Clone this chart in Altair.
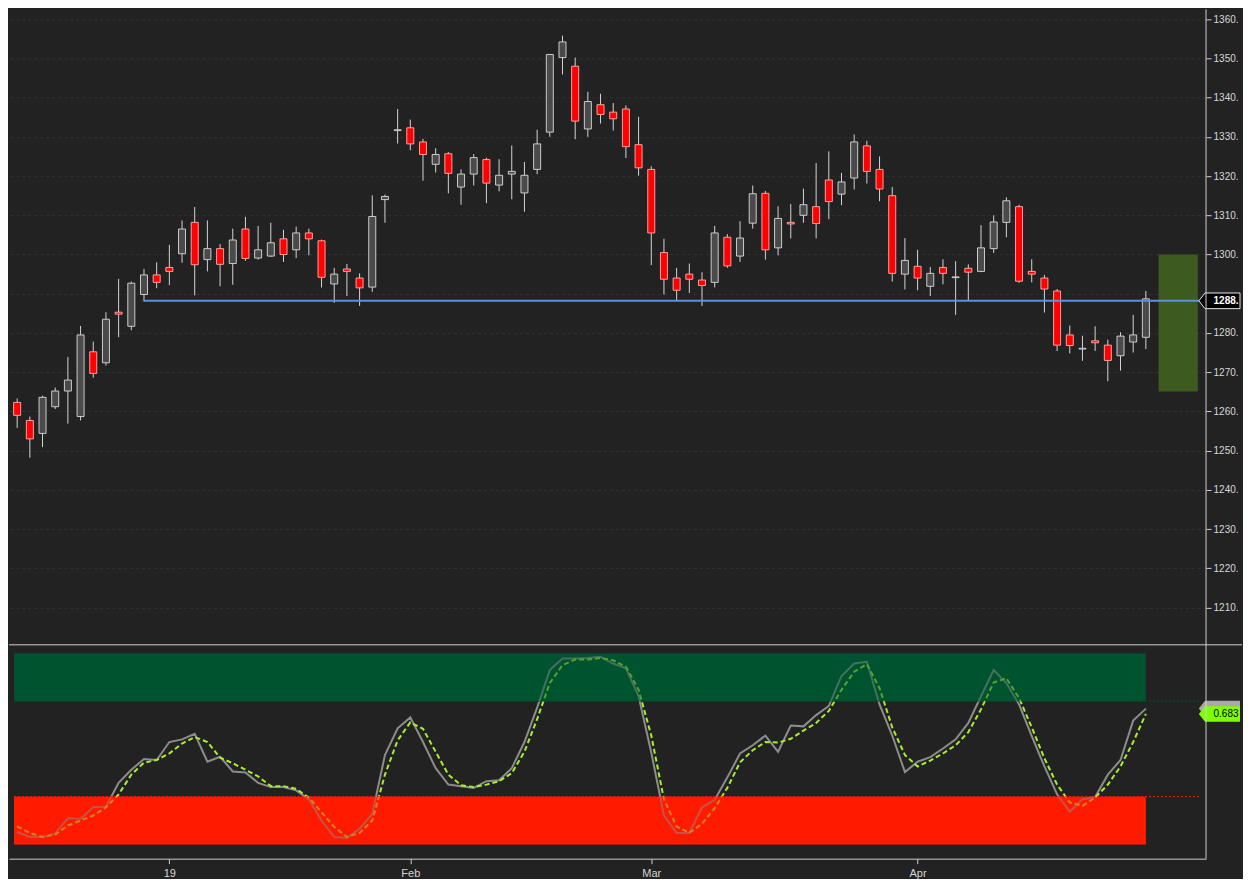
import altair as alt
import pandas as pd
import numpy as np

# ---------------- data ----------------
IDX = list(range(90))
OPEN = [1262.3, 1257.7, 1254.4, 1261.2, 1265.2, 1258.7, 1275.2, 1272.4, 1285.3, 1281.7,
        1289.8, 1294.8, 1296.7, 1300.2, 1308.2, 1298.7, 1301.5, 1297.7, 1306.5, 1299.1,
        1299.6, 1304.0, 1301.2, 1305.5, 1303.5, 1292.5, 1296.3, 1294.0, 1291.7, 1314.0,
        1331.6, 1332.3, 1328.7, 1323.0, 1325.7, 1317.2, 1320.5, 1324.2, 1317.7, 1320.5,
        1315.7, 1321.7, 1331.2, 1350.2, 1348.0, 1332.0, 1338.2, 1336.3, 1337.1, 1328.0,
        1321.7, 1300.5, 1294.0, 1295.0, 1293.5, 1292.9, 1304.4, 1299.6, 1308.0, 1315.6,
        1301.7, 1308.2, 1310.0, 1312.2, 1319.0, 1315.4, 1319.5, 1327.7, 1321.7, 1315.0,
        1295.0, 1297.0, 1291.9, 1296.7, 1294.1, 1296.5, 1295.7, 1301.5, 1308.2, 1312.2,
        1295.7, 1294.0, 1290.7, 1279.5, 1275.9, 1278.0, 1276.9, 1274.2, 1277.7, 1278.9]
HIGH = [1263.3, 1258.7, 1264.0, 1266.1, 1273.9, 1281.8, 1277.8, 1285.3, 1293.8, 1293.1,
        1296.3, 1298.0, 1302.5, 1308.7, 1312.1, 1308.7, 1302.7, 1306.6, 1309.6, 1307.3,
        1308.1, 1306.3, 1307.1, 1306.6, 1303.8, 1296.6, 1297.6, 1295.2, 1315.1, 1315.3,
        1337.1, 1334.4, 1329.5, 1327.1, 1326.1, 1321.7, 1325.6, 1324.7, 1324.3, 1327.8,
        1323.6, 1331.8, 1351.0, 1355.8, 1350.2, 1341.5, 1341.0, 1338.6, 1338.0, 1335.1,
        1322.5, 1304.0, 1296.6, 1297.7, 1295.5, 1307.3, 1305.2, 1308.5, 1317.6, 1316.2,
        1312.3, 1312.9, 1316.8, 1323.3, 1326.3, 1320.8, 1330.6, 1329.0, 1325.0, 1317.2,
        1304.2, 1301.2, 1296.8, 1298.8, 1298.3, 1297.5, 1307.5, 1310.0, 1314.6, 1312.7,
        1298.8, 1294.8, 1291.2, 1281.9, 1279.3, 1281.7, 1278.3, 1280.2, 1284.6, 1290.7]
LOW = [1255.8, 1248.2, 1250.9, 1260.6, 1256.9, 1257.7, 1268.6, 1271.7, 1278.9, 1280.7,
       1288.0, 1291.4, 1292.2, 1297.9, 1289.6, 1295.7, 1291.9, 1292.3, 1298.4, 1298.7,
       1299.4, 1298.1, 1299.1, 1299.8, 1291.6, 1287.7, 1289.4, 1286.9, 1290.5, 1308.1,
       1328.3, 1326.6, 1318.8, 1320.9, 1315.6, 1312.7, 1317.6, 1313.1, 1316.1, 1314.1,
       1310.9, 1320.5, 1330.0, 1345.9, 1329.4, 1330.0, 1333.4, 1331.6, 1324.6, 1320.1,
       1297.3, 1289.8, 1288.1, 1290.2, 1286.9, 1291.6, 1296.6, 1298.1, 1306.6, 1298.7,
       1299.8, 1304.1, 1308.1, 1304.1, 1309.0, 1312.6, 1316.6, 1318.1, 1313.6, 1293.1,
       1291.1, 1290.9, 1289.4, 1292.4, 1284.6, 1288.4, 1295.5, 1300.4, 1304.4, 1292.8,
       1292.9, 1285.2, 1275.4, 1274.8, 1272.9, 1275.4, 1267.7, 1270.4, 1275.0, 1275.9]
CLOSE = [1259.0, 1253.0, 1263.6, 1265.2, 1268.0, 1279.5, 1269.7, 1283.5, 1284.8, 1292.7,
         1294.8, 1292.9, 1295.7, 1306.5, 1297.4, 1301.5, 1297.5, 1303.7, 1299.0, 1301.2,
         1303.0, 1300.0, 1305.5, 1304.0, 1294.2, 1295.0, 1295.7, 1291.5, 1309.7, 1314.8,
         1331.8, 1328.2, 1325.5, 1325.5, 1320.7, 1320.5, 1324.7, 1318.2, 1320.2, 1321.2,
         1320.2, 1328.2, 1351.0, 1354.2, 1334.0, 1339.0, 1335.7, 1334.6, 1327.5, 1322.1,
         1305.5, 1293.7, 1290.9, 1293.7, 1292.1, 1305.5, 1297.1, 1304.2, 1315.5, 1301.2,
         1309.2, 1307.8, 1312.7, 1307.9, 1313.5, 1318.5, 1328.7, 1321.2, 1316.7, 1295.2,
         1298.5, 1294.0, 1295.2, 1295.2, 1294.3, 1295.5, 1301.7, 1308.3, 1313.7, 1293.2,
         1295.0, 1291.2, 1276.9, 1276.8, 1276.1, 1277.5, 1273.0, 1279.2, 1279.5, 1288.7]

# stochastic oscillator (%K solid grey, %D dashed green)
K = [0.065, 0.039, 0.039, 0.057, 0.137, 0.134, 0.194, 0.197, 0.322, 0.391,
     0.447, 0.442, 0.536, 0.550, 0.579, 0.433, 0.459, 0.382, 0.377, 0.322,
     0.300, 0.300, 0.283, 0.236, 0.125, 0.039, 0.034, 0.082, 0.159, 0.468,
     0.608, 0.665, 0.536, 0.399, 0.313, 0.305, 0.296, 0.331, 0.336, 0.399,
     0.536, 0.716, 0.913, 0.973, 0.973, 0.976, 0.982, 0.947, 0.922, 0.776,
     0.481, 0.151, 0.060, 0.060, 0.194, 0.233, 0.351, 0.476, 0.519, 0.570,
     0.485, 0.622, 0.618, 0.677, 0.725, 0.882, 0.947, 0.956, 0.733, 0.570,
     0.379, 0.433, 0.457, 0.502, 0.550, 0.636, 0.776, 0.913, 0.845, 0.733,
     0.567, 0.408, 0.262, 0.171, 0.236, 0.248, 0.365, 0.442, 0.648, 0.711]
D = [0.094, 0.060, 0.039, 0.051, 0.099, 0.125, 0.151, 0.194, 0.262, 0.365,
     0.428, 0.442, 0.476, 0.528, 0.562, 0.536, 0.454, 0.425, 0.391, 0.356,
     0.305, 0.305, 0.291, 0.245, 0.168, 0.091, 0.039, 0.060, 0.125, 0.365,
     0.545, 0.639, 0.605, 0.485, 0.365, 0.310, 0.300, 0.313, 0.331, 0.373,
     0.485, 0.656, 0.845, 0.939, 0.968, 0.968, 0.976, 0.964, 0.930, 0.810,
     0.570, 0.236, 0.094, 0.060, 0.108, 0.190, 0.296, 0.430, 0.493, 0.536,
     0.533, 0.553, 0.596, 0.636, 0.699, 0.810, 0.904, 0.944, 0.819, 0.613,
     0.468, 0.408, 0.439, 0.476, 0.519, 0.588, 0.707, 0.848, 0.870, 0.767,
     0.613, 0.451, 0.313, 0.219, 0.202, 0.245, 0.313, 0.408, 0.536, 0.683]

TICK_IDX = [12, 31, 50, 71]
TICK_LABELS = ["19", "Feb", "Mar", "Apr"]
PRICE_TICKS = list(range(1210, 1361, 10))
LEVEL = 1288.2
LEVEL_START = 10
BOX_X = [90.0, 93.1]
BOX_Y = [1265.1, 1300.0]
ZONE_NAMES = ["hi", "lo"]
ZONE_LO = [0.75, 0.0]
ZONE_HI = [1.0, 0.25]
ZONE_END = 89
LAST_K = 0.711
LAST_D = 0.683

# ---------------- layout constants ----------------
W, H = 1198, 850
X_DOM = [-0.25, 93.35]
P_DOM = [1200.5, 1362.5]
P_RANGE = [636, 0]
O_DOM = [0, 1]
O_RANGE = [835.7, 644.6]
SEP_Y = 636
TAG_CX = 1211.4
TAG_TX = 1205.5
TAG_PATH = "M-1,0L-0.7,-0.38L1,-0.38L1,0.38L-0.7,0.38Z"
TAG_SIZE = 1697
FONT = "Arial"

# ---------------- frames ----------------
cand = pd.DataFrame({"i": IDX, "o": OPEN, "h": HIGH, "l": LOW, "c": CLOSE})
cand["dir"] = np.where(cand["c"] >= cand["o"], "up", "down")
osc = pd.DataFrame({"i": IDX, "k": K, "d": D})
box = pd.DataFrame({"x": [BOX_X[0]], "x2": [BOX_X[1]], "y": [BOX_Y[0]], "y2": [BOX_Y[1]]})
lvl = pd.DataFrame({"x": [LEVEL_START], "x2": [X_DOM[1]], "y": [LEVEL], "lab": [f"{int(LEVEL)}."]})
zones = pd.DataFrame({"zone": ZONE_NAMES, "x": [X_DOM[0]] * 2, "x2": [ZONE_END] * 2,
                      "y": ZONE_LO, "y2": ZONE_HI})
thr = pd.DataFrame({"zone": ZONE_NAMES, "x": [X_DOM[0]] * 2, "x2": [X_DOM[1]] * 2,
                    "y": [ZONE_LO[0], ZONE_HI[1]]})
tag_k = pd.DataFrame({"v": [LAST_K]})
tag_d = pd.DataFrame({"v": [LAST_D], "lab": [f"{LAST_D:.3f}"]})
one = pd.DataFrame({"a": [0]})

# ---------------- scales / axes ----------------
label_expr = "''"
for t, lab in reversed(list(zip(TICK_IDX, TICK_LABELS))):
    label_expr = f"datum.value == {t} ? '{lab}' : ({label_expr})"

xs = alt.Scale(domain=X_DOM, nice=False, zero=False)
x_axis = alt.Axis(values=TICK_IDX, labelExpr=label_expr, title=None, grid=False,
                  domainColor="#cfcfcf", tickColor="#cfcfcf", tickSize=5, labelPadding=4,
                  labelColor="#d4d4d4", labelFontSize=11, labelFont=FONT)
ps = alt.Scale(domain=P_DOM, range=P_RANGE, nice=False, zero=False)
p_axis = alt.Axis(orient="right", values=PRICE_TICKS,
                  labelExpr=f"abs(datum.value - {LEVEL}) < 4 ? '' : format(datum.value, 'd') + '.'",
                  title=None, domain=False,
                  tickColor="#cfcfcf", tickSize=5, labelPadding=2, labelColor="#d8d8d8",
                  labelFontSize=10, labelFont=FONT, grid=True, gridColor="#323232",
                  gridDash=[3, 3], gridWidth=1)
os_ = alt.Scale(domain=O_DOM, range=O_RANGE, nice=False, zero=False)

X = lambda f: alt.X(f, scale=xs, axis=x_axis)
YP = lambda f: alt.Y(f, scale=ps, axis=p_axis)
YO = lambda f: alt.Y(f, scale=os_, axis=None)

# ---------------- price panel ----------------
box_l = alt.Chart(box).mark_rect(color="#3d5b1f").encode(x=X("x:Q"), x2="x2:Q", y=YP("y:Q"), y2="y2:Q")
wicks = alt.Chart(cand).mark_rule(color="#d4d4d4", strokeWidth=1, clip=True).encode(
    x=X("i:Q"), y=YP("l:Q"), y2="h:Q")
bodies = alt.Chart(cand).mark_bar(width=7, strokeWidth=1, clip=True).encode(
    x=X("i:Q"), y=YP("o:Q"), y2="c:Q",
    fill=alt.Fill("dir:N", scale=alt.Scale(domain=["up", "down"], range=["#4a4a4a", "#ff0000"]), legend=None),
    stroke=alt.Stroke("dir:N", scale=alt.Scale(domain=["up", "down"], range=["#cccccc", "#ff9e9e"]), legend=None))
level = alt.Chart(lvl).mark_rule(color="#5b8fe3", strokeWidth=2).encode(x=X("x:Q"), x2="x2:Q", y=YP("y:Q"))
ptag = alt.Chart(lvl).mark_point(shape=TAG_PATH, size=TAG_SIZE, filled=True, fill="#000000",
                                 stroke="#e6e6e6", strokeWidth=1, opacity=1).encode(
    x=alt.value(TAG_CX), y=YP("y:Q"))
ptext = alt.Chart(lvl).mark_text(align="left", baseline="middle", font=FONT, fontSize=10,
                                 fontWeight="bold", color="#ffffff").encode(
    x=alt.value(TAG_TX), y=YP("y:Q"), text="lab:N")
price = alt.layer(box_l, wicks, bodies, level, ptag, ptext)

# ---------------- oscillator panel ----------------
zcol = alt.Scale(domain=ZONE_NAMES, range=["#00532f", "#ff1a00"])
zone_base = alt.Chart(zones).mark_rect().encode(
    x=X("x:Q"), x2="x2:Q", y=YO("y:Q"), y2="y2:Q", color=alt.Color("zone:N", scale=zcol, legend=None))
kline = alt.Chart(osc).mark_line(color="#8c8c8c", strokeWidth=2).encode(x=X("i:Q"), y=YO("k:Q"))
dline = alt.Chart(osc).mark_line(color="#a8ee30", strokeWidth=2, strokeDash=[5, 3]).encode(x=X("i:Q"), y=YO("d:Q"))
zone_over = alt.Chart(zones).mark_rect(opacity=0.5).encode(
    x=X("x:Q"), x2="x2:Q", y=YO("y:Q"), y2="y2:Q", color=alt.Color("zone:N", scale=zcol, legend=None))
tcol = alt.Scale(domain=ZONE_NAMES, range=["#1f9a55", "#ff2a1a"])
thr_l = alt.Chart(thr).mark_rule(strokeWidth=1, strokeDash=[2, 2]).encode(
    x=X("x:Q"), x2="x2:Q", y=YO("y:Q"), color=alt.Color("zone:N", scale=tcol, legend=None))
ktag = alt.Chart(tag_k).mark_point(shape=TAG_PATH, size=TAG_SIZE, filled=True, fill="#a9a9a9",
                                   opacity=1, strokeWidth=0).encode(x=alt.value(TAG_CX), y=YO("v:Q"))
dtag = alt.Chart(tag_d).mark_point(shape=TAG_PATH, size=TAG_SIZE, filled=True, fill="#80ff00",
                                   opacity=1, strokeWidth=0).encode(x=alt.value(TAG_CX), y=YO("v:Q"))
dtext = alt.Chart(tag_d).mark_text(align="left", baseline="middle", font=FONT, fontSize=10,
                                   color="#000000").encode(x=alt.value(TAG_TX), y=YO("v:Q"), text="lab:N")
oscl = alt.layer(zone_base, kline, dline, zone_over, thr_l, ktag, dtag, dtext)

# ---------------- frame lines ----------------
sep = alt.Chart(one).mark_rule(color="#d0d0d0", strokeWidth=1).encode(
    x=alt.value(0), x2=alt.value(1234), y=alt.value(SEP_Y))
vline = alt.Chart(one).mark_rule(color="#d0d0d0", strokeWidth=1).encode(
    x=alt.value(W), y=alt.value(0), y2=alt.value(H))

chart = alt.layer(price, oscl, sep, vline).resolve_scale(y="independent").properties(
    width=W, height=H, padding=0, background="#222222"
).configure_view(stroke=None)

chart.save("out.html", embed_options={"renderer": "svg", "actions": False})
